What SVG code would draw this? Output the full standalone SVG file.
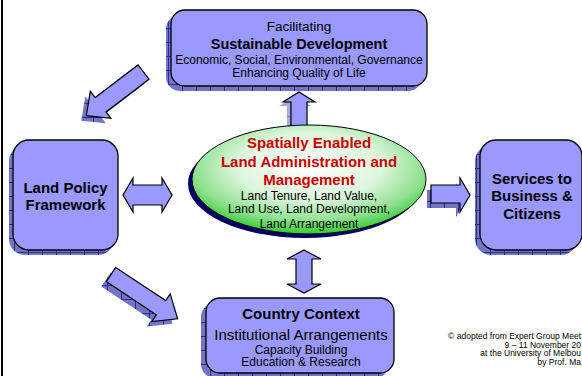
<svg xmlns="http://www.w3.org/2000/svg" xmlns:xlink="http://www.w3.org/1999/xlink" width="582" height="376" viewBox="0 0 582 376">
<defs>
<style>
text{font-family:"Liberation Sans",Arial,sans-serif;text-anchor:middle;fill:#000}
.b{font-weight:bold}
.red{fill:#cc0000;font-weight:bold;font-size:15px}
.box{fill:#9999ff;stroke:#000;stroke-width:1.3}
.shadow{fill:url(#hatch);stroke:none}
.arrow{fill:#9999ff;stroke:#000;stroke-width:1.2;stroke-linejoin:miter}
.note{font-size:8.5px;text-anchor:end}
</style>
<pattern id="hatch" width="14" height="14" patternUnits="userSpaceOnUse">
<rect width="14" height="14" fill="#7474c4"/>
<path d="M0,0.5H14M0.5,0V14" stroke="#2c2c96" stroke-width="1"/>
</pattern>
<radialGradient id="green" cx="50%" cy="38%" r="62%">
<stop offset="0" stop-color="#ffffff"/>
<stop offset="0.5" stop-color="#dcf6dc"/>
<stop offset="0.8" stop-color="#8fe08f"/>
<stop offset="1" stop-color="#33cc33"/>
</radialGradient>
<polygon id="aTL" points="149,79.2 106.1,111.9 110.9,118.3 86.3,115.7 90.3,91.3 95.2,97.6 138,64.9"/>
<polygon id="aBL" points="115.7,267.4 165.7,300.6 170.2,293.9 177.6,318.8 151.8,321.5 156.3,314.8 106.3,281.6"/>
<path id="aUp" d="M299,92 L315,102 L307,102 L307,128 L291,128 L291,102 L283,102 Z"/>
<path id="aV" d="M304,250 L321,259 L312,259 L312,284 L321,284 L304,293 L287,284 L296,284 L296,259 L287,259 Z"/>
<path id="aH" d="M123,195 L133,178 L133,185 L162,185 L162,178 L172,195 L162,212 L162,205 L133,205 L133,212 Z"/>
<path id="aR" d="M431,185 L460,185 L460,178 L470,195 L460,212 L460,203 L431,203 Z"/>
</defs>

<rect x="1" y="0" width="2" height="376" fill="#000"/>

<g id="connectors">
<use xlink:href="#aTL" class="shadow" transform="translate(-5,5)"/>
<use xlink:href="#aTL" class="arrow"/>
<use xlink:href="#aBL" class="shadow" transform="translate(-5,5)"/>
<use xlink:href="#aBL" class="arrow"/>
<use xlink:href="#aUp" class="shadow" transform="translate(-4,4)" opacity="0.6"/>
<use xlink:href="#aUp" class="arrow"/>
<use xlink:href="#aV" class="arrow"/>
<use xlink:href="#aH" class="arrow"/>
<use xlink:href="#aR" class="shadow" transform="translate(-4,5)"/>
<use xlink:href="#aR" class="arrow"/>
</g>

<g id="top">
<rect x="166" y="15" width="256" height="76" rx="14" class="shadow"/>
<rect x="171" y="10" width="256" height="76" rx="14" class="box"/>
<text x="299" y="31" style="font-size:13.5px">Facilitating</text>
<text x="299" y="48.5" class="b" style="font-size:14.5px">Sustainable Development</text>
<text x="299" y="63.5" style="font-size:12px">Economic, Social, Environmental, Governance</text>
<text x="299" y="76.5" style="font-size:12px">Enhancing Quality of Life</text>
</g>

<g id="left">
<rect x="9" y="145" width="105" height="110" rx="16" class="shadow"/>
<rect x="13" y="140" width="105" height="110" rx="16" class="box"/>
<text x="65.5" y="192.5" class="b" style="font-size:15px">Land Policy</text>
<text x="65.5" y="209.5" class="b" style="font-size:15px">Framework</text>
</g>

<g id="right">
<rect x="475" y="145" width="102" height="110" rx="16" class="shadow"/>
<rect x="480" y="140" width="102" height="110" rx="16" class="box"/>
<text x="532" y="183.5" class="b" style="font-size:15px">Services to</text>
<text x="532" y="201" class="b" style="font-size:15px">Business &amp;</text>
<text x="532" y="218.5" class="b" style="font-size:15px">Citizens</text>
</g>

<g id="bottom">
<rect x="201" y="303" width="188" height="75" rx="14" class="shadow"/>
<rect x="206" y="298" width="188" height="75" rx="14" class="box"/>
<text x="301" y="319.3" class="b" style="font-size:15px">Country Context</text>
<text x="301" y="339.5" style="font-size:15px">Institutional Arrangements</text>
<text x="301" y="353.8" style="font-size:12px">Capacity Building</text>
<text x="301" y="366.3" style="font-size:12px">Education &amp; Research</text>
</g>

<g id="center">
<ellipse cx="305" cy="183.5" rx="117" ry="54.5" fill="#000066"/>
<ellipse cx="309" cy="179.5" rx="117" ry="54.5" fill="url(#green)" stroke="#000" stroke-width="1"/>
<text x="309" y="147.7" class="red">Spatially Enabled</text>
<text x="309" y="166.5" class="red">Land Administration and</text>
<text x="309" y="184.5" class="red">Management</text>
<text x="309" y="200" style="font-size:12px">Land Tenure, Land Value,</text>
<text x="309" y="213.3" style="font-size:12px">Land Use, Land Development,</text>
<text x="309" y="228" style="font-size:12px">Land Arrangement</text>
</g>

<g id="credit">
<text x="581" y="339" class="note">© adopted from Expert Group Meet</text>
<text x="581" y="347.5" class="note">9 – 11 November 20</text>
<text x="581" y="356" class="note">at the University of Melbou</text>
<text x="581" y="364.5" class="note">by Prof. Ma</text>
</g>
</svg>
